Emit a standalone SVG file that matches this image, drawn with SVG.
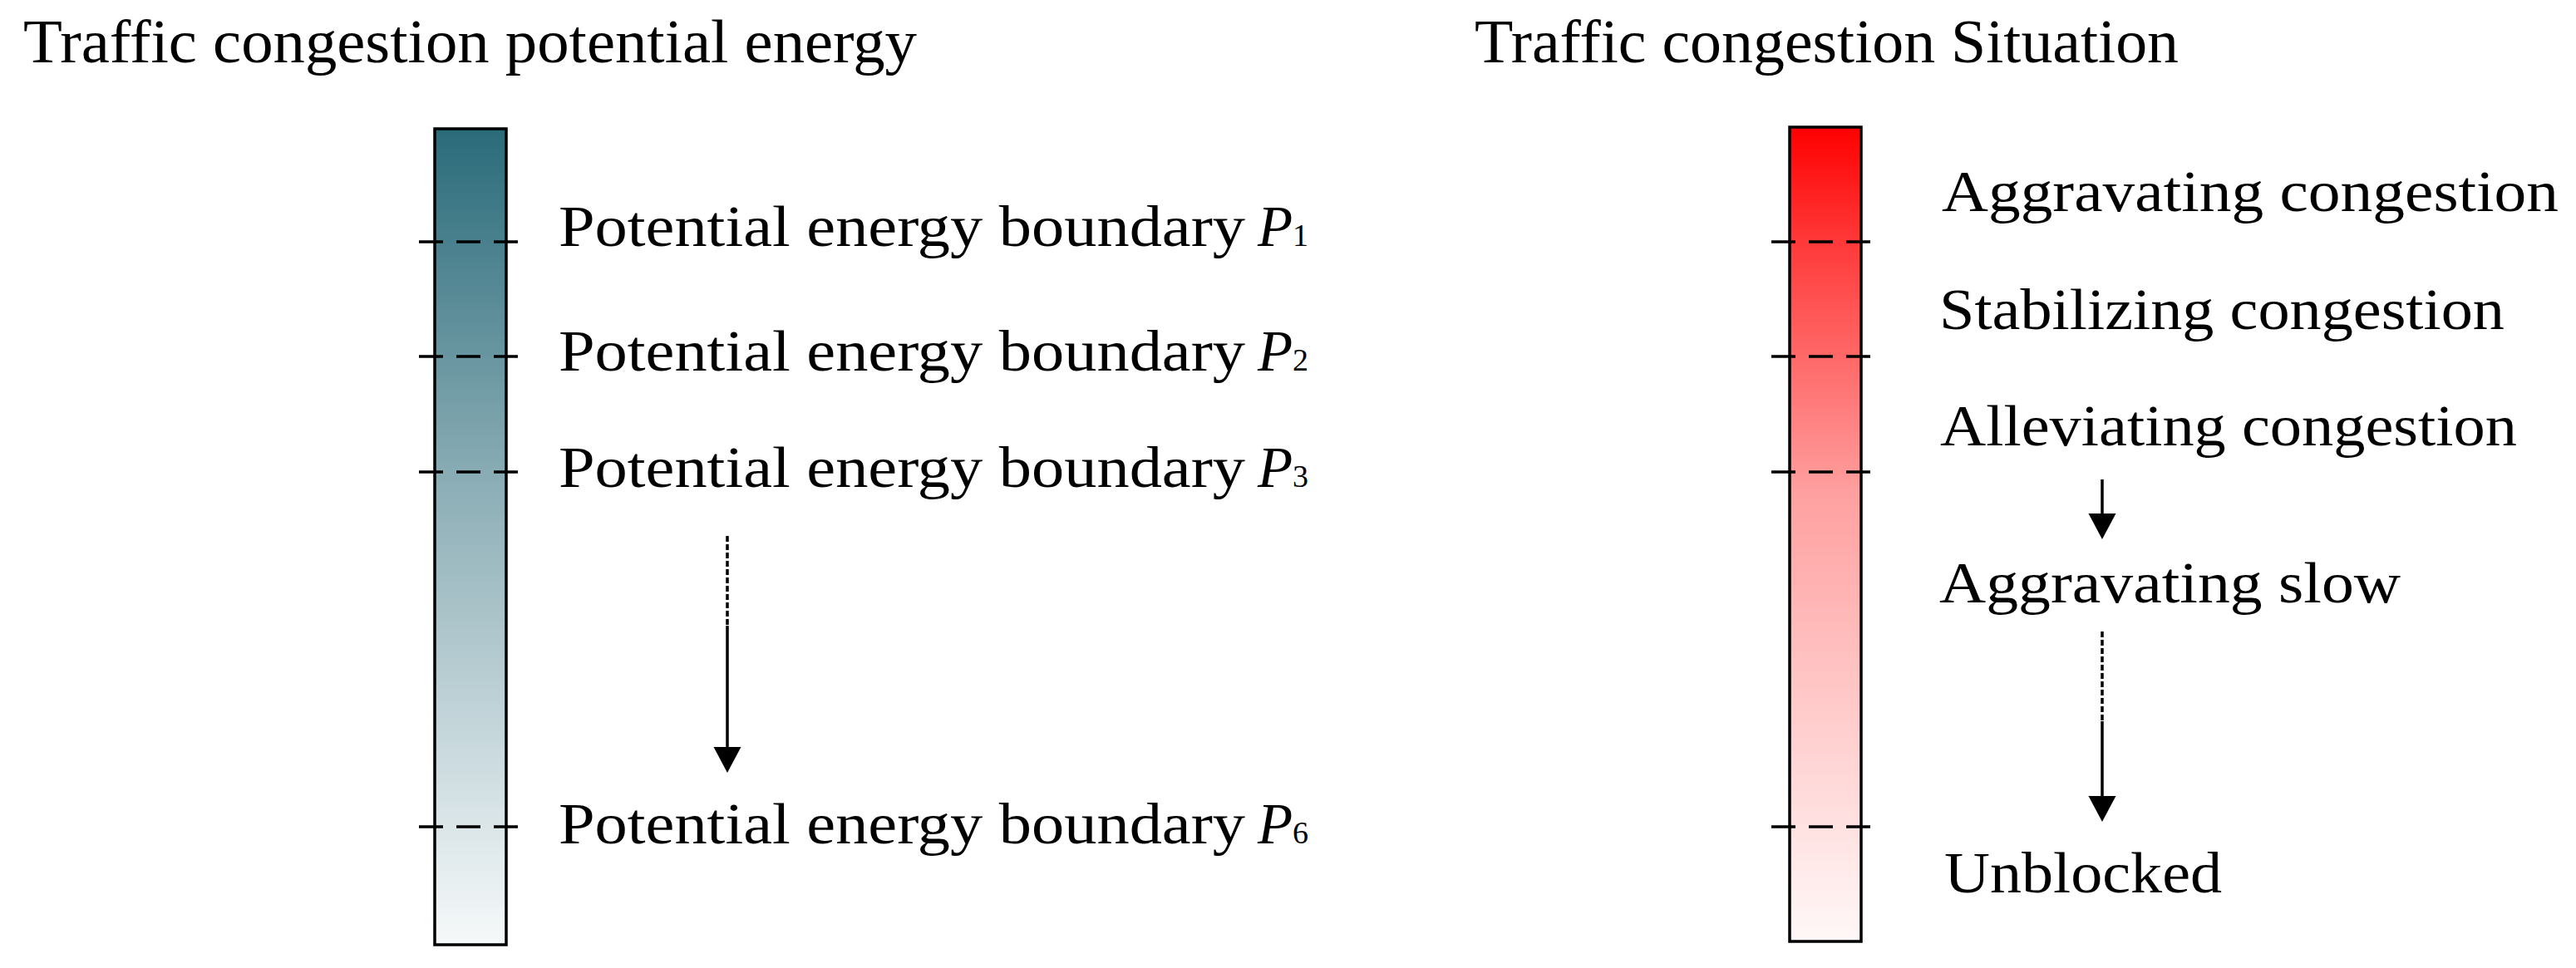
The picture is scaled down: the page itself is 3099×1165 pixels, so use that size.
<svg xmlns="http://www.w3.org/2000/svg" width="3099" height="1165" viewBox="0 0 3099 1165">
<style>
text{font-family:"Liberation Serif","Times New Roman",serif;fill:#000}
.title{font-size:73px}
.lbl{font-size:69px}
.sub{font-size:38px}
.bar{stroke:#000;stroke-width:3.5}
.tick{stroke:#000;stroke-width:3.5;stroke-dasharray:29 16;fill:none}
.ln{stroke:#000;stroke-width:3.5;fill:none}
.dot{stroke:#000;stroke-width:3.5;fill:none;stroke-dasharray:7 3}
</style>
<defs>
<linearGradient id="gBlue" x1="0" y1="0" x2="0" y2="1">
<stop offset="0" stop-color="#2a6b7a"/>
<stop offset="0.45" stop-color="#8fb0b8"/>
<stop offset="1" stop-color="#f6f9fa"/>
</linearGradient>
<linearGradient id="gRed" x1="0" y1="0" x2="0" y2="1">
<stop offset="0" stop-color="#ff0000"/>
<stop offset="0.15" stop-color="#ff3c3c"/>
<stop offset="0.45" stop-color="#ffa0a0"/>
<stop offset="1" stop-color="#fff8f8"/>
</linearGradient>
<marker id="ah" markerUnits="userSpaceOnUse" markerWidth="31" markerHeight="34" refX="0" refY="16.5" orient="auto" viewBox="0 0 31 33">
<path d="M0,0 L31,16.5 L0,33 z" fill="#000"/>
</marker>
</defs>
<rect width="3099" height="1165" fill="#fff"/>

<g id="title-left"><text class="title" x="28" y="75" textLength="1075" lengthAdjust="spacingAndGlyphs">Traffic congestion potential energy</text></g>
<g id="title-right"><text class="title" x="1774" y="75" textLength="847" lengthAdjust="spacingAndGlyphs">Traffic congestion Situation</text></g>

<g id="bar-potential">
<rect class="bar" x="523" y="155" width="86" height="982" fill="url(#gBlue)"/>
<line class="tick" x1="504" y1="291" x2="623" y2="291"/>
<line class="tick" x1="504" y1="429" x2="623" y2="429"/>
<line class="tick" x1="504" y1="568" x2="623" y2="568"/>
<line class="tick" x1="504" y1="995" x2="623" y2="995"/>
</g>

<g id="label-p1">
<text class="lbl" x="672" y="296" textLength="826" lengthAdjust="spacingAndGlyphs">Potential energy boundary</text>
<text class="lbl" x="1513" y="296"><tspan font-style="italic">P</tspan><tspan class="sub" x="1555">1</tspan></text>
</g>
<g id="label-p2">
<text class="lbl" x="672" y="446" textLength="826" lengthAdjust="spacingAndGlyphs">Potential energy boundary</text>
<text class="lbl" x="1513" y="446"><tspan font-style="italic">P</tspan><tspan class="sub" x="1555">2</tspan></text>
</g>
<g id="label-p3">
<text class="lbl" x="672" y="586" textLength="826" lengthAdjust="spacingAndGlyphs">Potential energy boundary</text>
<text class="lbl" x="1513" y="586"><tspan font-style="italic">P</tspan><tspan class="sub" x="1555">3</tspan></text>
</g>
<g id="label-p6">
<text class="lbl" x="672" y="1015" textLength="826" lengthAdjust="spacingAndGlyphs">Potential energy boundary</text>
<text class="lbl" x="1513" y="1015"><tspan font-style="italic">P</tspan><tspan class="sub" x="1555">6</tspan></text>
</g>

<g id="bar-situation">
<rect class="bar" x="2153" y="153" width="86" height="980" fill="url(#gRed)"/>
<line class="tick" x1="2131" y1="291" x2="2250" y2="291"/>
<line class="tick" x1="2131" y1="429" x2="2250" y2="429"/>
<line class="tick" x1="2131" y1="568" x2="2250" y2="568"/>
<line class="tick" x1="2131" y1="995" x2="2250" y2="995"/>
</g>

<g id="state-aggravating-congestion"><text class="lbl" x="2336" y="254" textLength="742" lengthAdjust="spacingAndGlyphs">Aggravating congestion</text></g>
<g id="state-stabilizing-congestion"><text class="lbl" x="2333" y="396" textLength="680" lengthAdjust="spacingAndGlyphs">Stabilizing congestion</text></g>
<g id="state-alleviating-congestion"><text class="lbl" x="2334" y="536" textLength="694" lengthAdjust="spacingAndGlyphs">Alleviating congestion</text></g>
<g id="state-aggravating-slow"><text class="lbl" x="2333" y="725" textLength="555" lengthAdjust="spacingAndGlyphs">Aggravating slow</text></g>
<g id="state-unblocked"><text class="lbl" x="2339" y="1074" textLength="334" lengthAdjust="spacingAndGlyphs">Unblocked</text></g>

<g id="connectors">
<line class="dot" x1="875" y1="645" x2="875" y2="753"/>
<line class="ln" x1="875" y1="753" x2="875" y2="899" marker-end="url(#ah)"/>
<line class="ln" x1="2529" y1="577" x2="2529" y2="618" marker-end="url(#ah)"/>
<line class="dot" x1="2529" y1="760" x2="2529" y2="868"/>
<line class="ln" x1="2529" y1="868" x2="2529" y2="958" marker-end="url(#ah)"/>
</g>
</svg>
